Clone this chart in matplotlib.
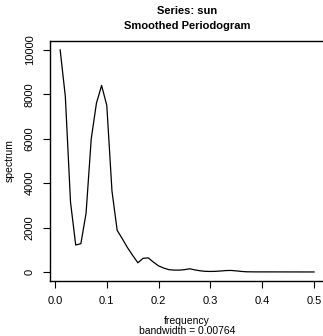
import matplotlib
matplotlib.use('Agg')
import matplotlib.pyplot as plt

plt.rcParams['font.family'] = ['Liberation Sans', 'DejaVu Sans']

# smoothed periodogram values
frequency = [0.01, 0.02, 0.03, 0.04, 0.05, 0.06, 0.07, 0.08, 0.09, 0.10,
             0.11, 0.12, 0.13, 0.14, 0.15, 0.16, 0.17, 0.18, 0.19, 0.20,
             0.21, 0.22, 0.23, 0.24, 0.25, 0.26, 0.27, 0.28, 0.29, 0.30,
             0.31, 0.32, 0.33, 0.34, 0.35, 0.36, 0.37, 0.38, 0.39, 0.40,
             0.41, 0.42, 0.43, 0.44, 0.45, 0.46, 0.47, 0.48, 0.49, 0.50]
spectrum = [10000, 7900, 3150, 1220, 1280, 2650, 6000, 7600, 8400, 7500,
            3650, 1880, 1500, 1100, 750, 420, 620, 640, 450, 280,
            180, 110, 90, 90, 110, 150, 100, 60, 35, 30,
            35, 50, 70, 75, 55, 30, 15, 12, 10, 10,
            10, 10, 9, 9, 8, 8, 8, 7, 7, 7]
xticks = [0.0, 0.1, 0.2, 0.3, 0.4, 0.5]
yticks = [0, 2000, 4000, 6000, 8000, 10000]

W, H = 323, 336
fig = plt.figure(figsize=(W / 100, H / 100), dpi=100)
ax = fig.add_axes([50 / W, 55 / H, 274.2 / W, 240 / H])

ax.plot(frequency, spectrum, color='black', lw=0.9)

# R style 4% padding
xr = frequency[-1] - frequency[0]
ax.set_xlim(frequency[0] - 0.04 * xr, frequency[-1] + 0.04 * xr)
ax.set_ylim(-0.04 * 10000, 10000 * 1.04)

ax.set_xticks(xticks)
ax.set_xticklabels([f'{t:.1f}' for t in xticks])
ax.set_yticks(yticks)
ax.set_yticklabels([str(t) for t in yticks], rotation=90, va='center')
ax.tick_params(direction='out', length=5, width=0.8, labelsize=8, pad=6)
for s in ax.spines.values():
    s.set_linewidth(1.0)

fig.text(187 / W, 1 - 11 / H, 'Series: sun', ha='center', va='center',
         fontsize=8, fontweight='bold')
fig.text(187 / W, 1 - 26 / H, 'Smoothed Periodogram', ha='center', va='center',
         fontsize=8, fontweight='bold')
fig.text(187 / W, 1 - 321 / H, 'frequency', ha='center', va='center', fontsize=7.5)
fig.text(187 / W, 1 - 331 / H, 'bandwidth = 0.00764', ha='center', va='center',
         fontsize=7.5)
fig.text(10 / W, 1 - 161 / H, 'spectrum', ha='center', va='center',
         rotation=90, fontsize=7.5)

fig.savefig('out.png', dpi=100)
